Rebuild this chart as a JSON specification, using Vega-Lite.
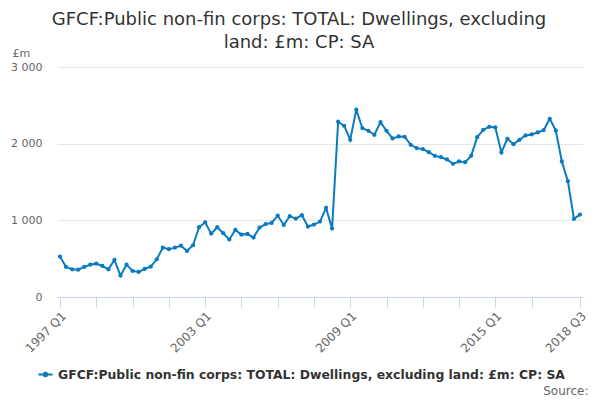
{
  "$schema": "https://vega.github.io/schema/vega-lite/v6.json",
  "autosize": {"type": "none"},
  "width": 526,
  "height": 230,
  "padding": {"left": 57, "top": 67, "right": 17, "bottom": 103},
  "background": "white",
  "title": {
    "text": ["GFCF:Public non-fin corps: TOTAL: Dwellings, excluding", "land: £m: CP: SA"],
    "font": "DejaVu Sans",
    "fontSize": 18,
    "fontWeight": "normal",
    "color": "#333333",
    "lineHeight": 23,
    "anchor": "middle",
    "frame": "group",
    "dx": -21,
    "offset": -5
  },
  "data": {
    "values": [
      {"quarter": "1997 Q1", "value": 527}, {"quarter": "1997 Q2", "value": 392}, {"quarter": "1997 Q3", "value": 361}, {"quarter": "1997 Q4", "value": 357},
      {"quarter": "1998 Q1", "value": 392}, {"quarter": "1998 Q2", "value": 422}, {"quarter": "1998 Q3", "value": 435}, {"quarter": "1998 Q4", "value": 405},
      {"quarter": "1999 Q1", "value": 361}, {"quarter": "1999 Q2", "value": 483}, {"quarter": "1999 Q3", "value": 279}, {"quarter": "1999 Q4", "value": 422},
      {"quarter": "2000 Q1", "value": 340}, {"quarter": "2000 Q2", "value": 327}, {"quarter": "2000 Q3", "value": 366}, {"quarter": "2000 Q4", "value": 396},
      {"quarter": "2001 Q1", "value": 492}, {"quarter": "2001 Q2", "value": 644}, {"quarter": "2001 Q3", "value": 623}, {"quarter": "2001 Q4", "value": 644},
      {"quarter": "2002 Q1", "value": 670}, {"quarter": "2002 Q2", "value": 601}, {"quarter": "2002 Q3", "value": 675}, {"quarter": "2002 Q4", "value": 910},
      {"quarter": "2003 Q1", "value": 975}, {"quarter": "2003 Q2", "value": 827}, {"quarter": "2003 Q3", "value": 910}, {"quarter": "2003 Q4", "value": 832},
      {"quarter": "2004 Q1", "value": 750}, {"quarter": "2004 Q2", "value": 875}, {"quarter": "2004 Q3", "value": 814}, {"quarter": "2004 Q4", "value": 823},
      {"quarter": "2005 Q1", "value": 775}, {"quarter": "2005 Q2", "value": 906}, {"quarter": "2005 Q3", "value": 949}, {"quarter": "2005 Q4", "value": 966},
      {"quarter": "2006 Q1", "value": 1062}, {"quarter": "2006 Q2", "value": 940}, {"quarter": "2006 Q3", "value": 1054}, {"quarter": "2006 Q4", "value": 1023},
      {"quarter": "2007 Q1", "value": 1067}, {"quarter": "2007 Q2", "value": 919}, {"quarter": "2007 Q3", "value": 945}, {"quarter": "2007 Q4", "value": 984},
      {"quarter": "2008 Q1", "value": 1162}, {"quarter": "2008 Q2", "value": 892}, {"quarter": "2008 Q3", "value": 2286}, {"quarter": "2008 Q4", "value": 2233},
      {"quarter": "2009 Q1", "value": 2051}, {"quarter": "2009 Q2", "value": 2442}, {"quarter": "2009 Q3", "value": 2203}, {"quarter": "2009 Q4", "value": 2168},
      {"quarter": "2010 Q1", "value": 2116}, {"quarter": "2010 Q2", "value": 2281}, {"quarter": "2010 Q3", "value": 2168}, {"quarter": "2010 Q4", "value": 2068},
      {"quarter": "2011 Q1", "value": 2094}, {"quarter": "2011 Q2", "value": 2090}, {"quarter": "2011 Q3", "value": 1985}, {"quarter": "2011 Q4", "value": 1942},
      {"quarter": "2012 Q1", "value": 1929}, {"quarter": "2012 Q2", "value": 1889}, {"quarter": "2012 Q3", "value": 1841}, {"quarter": "2012 Q4", "value": 1823},
      {"quarter": "2013 Q1", "value": 1794}, {"quarter": "2013 Q2", "value": 1737}, {"quarter": "2013 Q3", "value": 1768}, {"quarter": "2013 Q4", "value": 1759},
      {"quarter": "2014 Q1", "value": 1841}, {"quarter": "2014 Q2", "value": 2085}, {"quarter": "2014 Q3", "value": 2181}, {"quarter": "2014 Q4", "value": 2220},
      {"quarter": "2015 Q1", "value": 2212}, {"quarter": "2015 Q2", "value": 1885}, {"quarter": "2015 Q3", "value": 2064}, {"quarter": "2015 Q4", "value": 1994},
      {"quarter": "2016 Q1", "value": 2051}, {"quarter": "2016 Q2", "value": 2107}, {"quarter": "2016 Q3", "value": 2120}, {"quarter": "2016 Q4", "value": 2146},
      {"quarter": "2017 Q1", "value": 2177}, {"quarter": "2017 Q2", "value": 2325}, {"quarter": "2017 Q3", "value": 2172}, {"quarter": "2017 Q4", "value": 1768},
      {"quarter": "2018 Q1", "value": 1511}, {"quarter": "2018 Q2", "value": 1019}, {"quarter": "2018 Q3", "value": 1075}
    ]
  },
  "mark": {
    "type": "line",
    "strokeWidth": 2,
    "point": {"filled": true, "size": 18}
  },
  "encoding": {
    "x": {
      "field": "quarter",
      "type": "ordinal",
      "sort": null,
      "scale": {"type": "point", "padding": 0.5},
      "axis": {
        "values": ["1997 Q1", "1998 Q3", "2000 Q1", "2001 Q3", "2003 Q1", "2004 Q3", "2006 Q1", "2007 Q3", "2009 Q1", "2010 Q3", "2012 Q1", "2013 Q3", "2015 Q1", "2016 Q3", "2018 Q3"],
        "labelExpr": "indexof(['1997 Q1','2003 Q1','2009 Q1','2015 Q1','2018 Q3'], datum.value) >= 0 ? datum.value : ''",
        "labelAngle": -45,
        "labelOverlap": false,
        "labelFont": "DejaVu Sans",
        "labelFontSize": 12,
        "labelColor": "#666666",
        "labelPadding": 3,
        "tickSize": 10,
        "tickColor": "#ccd6eb",
        "domainColor": "#ccd6eb",
        "grid": false,
        "title": "Source:",
        "titleFont": "DejaVu Sans",
        "titleFontSize": 12,
        "titleFontWeight": "normal",
        "titleColor": "#666666",
        "titleAnchor": "end",
        "titleAlign": "right",
        "titleBaseline": "middle",
        "titleX": 531,
        "titleY": 93
      }
    },
    "y": {
      "field": "value",
      "type": "quantitative",
      "scale": {"domain": [0, 3000]},
      "axis": {
        "values": [0, 1000, 2000, 3000],
        "labelExpr": "replace(format(datum.value, ','), ',', ' ')",
        "labelFont": "DejaVu Sans",
        "labelFontSize": 11,
        "labelColor": "#666666",
        "labelPadding": 15,
        "ticks": false,
        "domain": false,
        "gridColor": "#e6e6e6",
        "title": "£m",
        "titleFont": "DejaVu Sans",
        "titleFontSize": 11,
        "titleFontWeight": "normal",
        "titleColor": "#666666",
        "titleAngle": 0,
        "titleAlign": "left",
        "titleBaseline": "middle",
        "titleX": -45,
        "titleY": -14
      }
    },
    "color": {
      "datum": "GFCF:Public non-fin corps: TOTAL: Dwellings, excluding land: £m: CP: SA",
      "type": "nominal",
      "scale": {"range": ["#0b7bc0"]},
      "legend": {
        "title": null,
        "orient": "none",
        "legendX": -20,
        "legendY": 299,
        "labelFont": "DejaVu Sans",
        "labelFontSize": 12.4,
        "labelFontWeight": "bold",
        "labelColor": "#333333",
        "labelLimit": 0,
        "symbolType": "M-1,0L1,0M0.25,0A0.25,0.25 0 1,1 -0.25,0A0.25,0.25 0 1,1 0.25,0",
        "symbolSize": 200,
        "symbolStrokeWidth": 2,
        "symbolOpacity": 1
      }
    }
  },
  "config": {
    "view": {"stroke": null}
  }
}
